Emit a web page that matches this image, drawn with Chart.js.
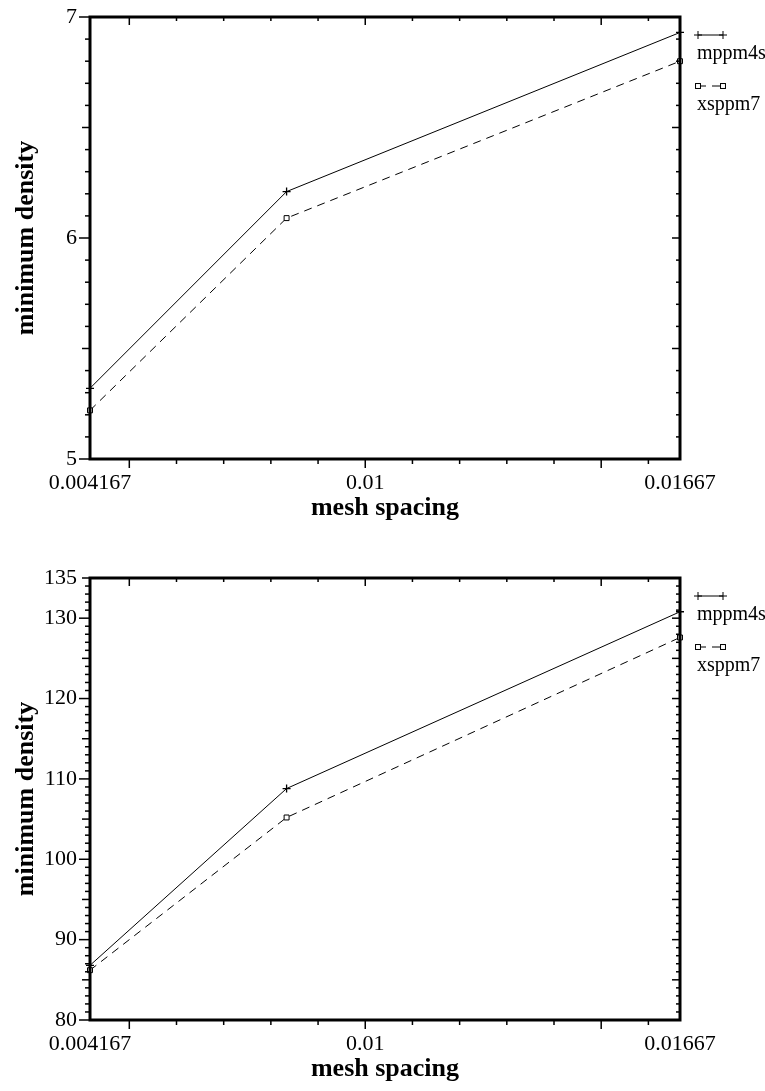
<!DOCTYPE html>
<html>
<head>
<meta charset="utf-8">
<script src="https://cdn.jsdelivr.net/npm/chart.js@4.4.0/dist/chart.umd.min.js"></script>
<style>
html, body { margin: 0; padding: 0; background: #fff; overflow: hidden; }
.box { position: absolute; left: 0; width: 765px; height: 545px; }
</style>
</head>
<body>
<div class="box" style="top:0"><canvas id="topChart" width="765" height="545"></canvas></div>
<div class="box" style="top:561px"><canvas id="bottomChart" width="765" height="545"></canvas></div>
<script>
// mesh spacing (x) and the labelled ticks
let meshSpacing = [0.004167, 0.008333, 0.01667];
let xTickValues = [0.004167, 0.01, 0.01667];
let xTickLabels = ['0.004167', '0.01', '0.01667'];

// upper plot
let topMppm4s = [5.32, 6.21, 6.93];
let topXsppm7 = [5.22, 6.09, 6.80];
let topYTicks = [5, 6, 7];

// lower plot
let bottomMppm4s = [86.8, 108.8, 130.8];
let bottomXsppm7 = [86.2, 105.2, 127.6];
let bottomYTicks = [80, 90, 100, 110, 120, 130, 135];

const FONT = "'Liberation Serif', 'Times New Roman', serif";

let line = (ctx, x0, y0, x1, y1) => {
    ctx.beginPath();
    ctx.moveTo(x0, y0);
    ctx.lineTo(x1, y1);
    ctx.stroke();
};

// walk over the minor tick positions of an axis
let eachTick = (spec, fn) => {
    let n = Math.round((spec.to - spec.from) / spec.step);
    for (let i = 0; i <= n; i++) {
        let v = spec.from + i * spec.step;
        let kind = i % spec.major === 0 ? 2 : (spec.mid && i % spec.mid === 0 ? 1 : 0);
        fn(v, kind);
    }
};

// frame and tick marks, all sides
let frameTicks = {
    id: 'frameTicks',
    afterDatasetsDraw(chart, args, opts) {
        let ctx = chart.ctx, a = chart.chartArea;
        let sx = chart.scales.x, sy = chart.scales.y;
        ctx.save();
        ctx.strokeStyle = '#000';
        ctx.lineWidth = 1.5;
        eachTick(opts.x, (v, kind) => {
            let px = sx.getPixelForValue(v);
            line(ctx, px, a.bottom, px, a.bottom + (kind ? 9 : 5));
            line(ctx, px, a.top, px, a.top + (kind ? 8 : 4));
        });
        eachTick(opts.y, (v, kind) => {
            let py = sy.getPixelForValue(v);
            line(ctx, a.left, py, a.left - [5, 8, 11][kind], py);
            line(ctx, a.right, py, a.right - [4, 8, 8][kind], py);
        });
        ctx.lineWidth = 3;
        ctx.strokeRect(a.left, a.top, a.width, a.height);
        ctx.restore();
    }
};

let marker = (ctx, style, x, y, r) => {
    if (style === 'cross') {
        line(ctx, x - r, y, x + r, y);
        line(ctx, x, y - r, x, y + r);
    } else {
        let s = Math.SQRT1_2 * r;
        ctx.fillStyle = '#fff';
        ctx.fillRect(x - s, y - s, 2 * s, 2 * s);
        ctx.strokeRect(x - s, y - s, 2 * s, 2 * s);
    }
};

// legend: sample line above its name
let sideLegend = {
    id: 'sideLegend',
    afterDraw(chart) {
        let ctx = chart.ctx, a = chart.chartArea;
        ctx.save();
        chart.data.datasets.forEach((ds, i) => {
            let y = a.top + 18 + i * 51;
            let x0 = a.right + 18, x1 = a.right + 43;
            ctx.strokeStyle = '#000';
            ctx.lineWidth = 1;
            ctx.setLineDash(ds.borderDash || []);
            line(ctx, x0, y, x1, y);
            ctx.setLineDash([]);
            marker(ctx, ds.pointStyle, x0, y, ds.pointRadius);
            marker(ctx, ds.pointStyle, x1, y, ds.pointRadius);
            ctx.fillStyle = '#000';
            ctx.font = '20px ' + FONT;
            ctx.textBaseline = 'middle';
            ctx.textAlign = 'left';
            ctx.fillText(ds.label, a.right + 17, y + 19);
        });
        ctx.restore();
    }
};

let makeChart = (id, mppm, xsppm, yTicks, yMinor) => {
    let ctx = document.getElementById(id).getContext('2d');
    return new Chart(ctx, {
        type: 'line',
        data: {
            datasets: [{
                label: 'mppm4s',
                data: meshSpacing.map((x, i) => ({x: x, y: mppm[i]})),
                borderColor: '#000',
                borderWidth: 1,
                pointStyle: 'cross',
                pointRadius: 4,
                pointBorderWidth: 1.3,
                pointBorderColor: '#000',
                tension: 0,
                clip: false
            }, {
                label: 'xsppm7',
                data: meshSpacing.map((x, i) => ({x: x, y: xsppm[i]})),
                borderColor: '#000',
                borderWidth: 1,
                borderDash: [8, 6],
                pointStyle: 'rect',
                pointRadius: 3.5,
                pointBorderWidth: 1,
                pointBorderColor: '#000',
                pointBackgroundColor: '#fff',
                tension: 0,
                clip: false
            }]
        },
        options: {
            responsive: false,
            animation: false,
            layout: {padding: {top: 17, right: 85, left: 0, bottom: 0}},
            plugins: {
                legend: {display: false},
                tooltip: {enabled: false},
                frameTicks: {
                    x: {from: 0.005, to: 0.016, step: 0.001, major: 5},
                    y: yMinor
                }
            },
            scales: {
                x: {
                    type: 'linear',
                    min: meshSpacing[0],
                    max: meshSpacing[meshSpacing.length - 1],
                    afterBuildTicks: s => { s.ticks = xTickValues.map(v => ({value: v})); },
                    afterFit: s => { s.height = 86; s.paddingLeft = 0; s.paddingRight = 0; },
                    grid: {display: false, drawTicks: false},
                    border: {display: false},
                    ticks: {
                        callback: (v, i) => xTickLabels[i],
                        autoSkip: false,
                        maxRotation: 0,
                        padding: 11,
                        color: '#000',
                        font: {family: FONT, size: 22}
                    },
                    title: {
                        display: true,
                        text: 'mesh spacing',
                        color: '#000',
                        font: {family: FONT, size: 26, weight: 'bold'},
                        padding: {top: 0, bottom: 21}
                    }
                },
                y: {
                    type: 'linear',
                    min: yTicks[0],
                    max: yTicks[yTicks.length - 1],
                    afterBuildTicks: s => { s.ticks = yTicks.map(v => ({value: v})); },
                    afterFit: s => { s.width = 90; s.paddingTop = 0; s.paddingBottom = 0; },
                    grid: {display: false, drawTicks: false},
                    border: {display: false},
                    ticks: {
                        padding: 13,
                        color: '#000',
                        font: {family: FONT, size: 22}
                    },
                    title: {
                        display: true,
                        text: 'minimum density',
                        color: '#000',
                        font: {family: FONT, size: 26, weight: 'bold'},
                        padding: {top: 11, bottom: 0}
                    }
                }
            }
        },
        plugins: [frameTicks, sideLegend]
    });
};

makeChart('topChart', topMppm4s, topXsppm7, topYTicks,
    {from: 5, to: 7, step: 0.1, mid: 5, major: 10});
makeChart('bottomChart', bottomMppm4s, bottomXsppm7, bottomYTicks,
    {from: 80, to: 135, step: 1, mid: 5, major: 10});
</script>
</body>
</html>
